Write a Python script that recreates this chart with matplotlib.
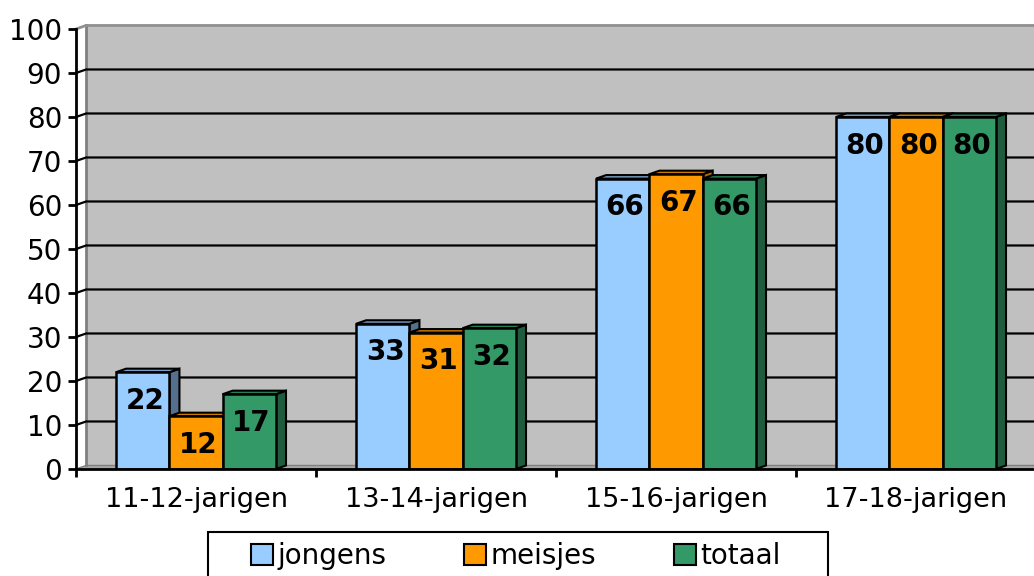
import matplotlib
matplotlib.use("Agg")
import matplotlib.pyplot as plt
from matplotlib.patches import Polygon, Rectangle, Patch
import numpy as np

# -- data
categories = ["11-12-jarigen", "13-14-jarigen", "15-16-jarigen", "17-18-jarigen"]
series_names = ["jongens", "meisjes", "totaal"]
jongens = [22, 33, 66, 80]
meisjes = [12, 31, 67, 80]
totaal = [17, 32, 66, 80]

front_colors = ["#99CCFF", "#FF9900", "#339966"]
side_colors = ["#55708C", "#B36B00", "#1F5C3D"]
top_colors = ["#7A9FC6", "#CC7A00", "#2A7F52"]

series = [jongens, meisjes, totaal]

fig = plt.figure(figsize=(10.34, 5.76), dpi=100)
ax = fig.add_axes([76 / 1034, 1 - 469 / 576, 960 / 1034, 440 / 576])
ax.set_xlim(-0.5, 3.5)
ax.set_ylim(0, 100)

dx = 0.042   # depth offset in category units
dy = 0.8     # depth offset in value units
right = 3.5 + dx

# back wall
ax.add_patch(Rectangle((-0.5 + dx, dy), right - (-0.5 + dx), 100, facecolor="#C0C0C0",
                       edgecolor="none", zorder=0, clip_on=False))
# floor
ax.add_patch(Polygon([(-0.5, 0), (-0.5 + dx, dy), (right, dy), (right, 0)],
                     closed=True, facecolor="#A8A8A8", edgecolor="#808080", lw=1,
                     zorder=0.5, clip_on=False))
# wall left edge and top
ax.plot([-0.5 + dx, -0.5 + dx], [dy, 100 + dy], color="#808080", lw=2, zorder=1, clip_on=False)
ax.plot([-0.5, -0.5 + dx, right], [100, 100 + dy, 100 + dy], color="#909090", lw=2,
        zorder=1, clip_on=False)

# gridlines on side and back wall
for v in range(10, 100, 10):
    ax.plot([-0.5, -0.5 + dx, right], [v, v + dy, v + dy], color="black", lw=1.6,
            zorder=1, clip_on=False)

# bars with 3D faces
width = 0.222
offsets = [-width, 0, width]
z = 2
for i in range(len(categories)):
    for s, vals in enumerate(series):
        v = vals[i]
        x0 = i + offsets[s] - width / 2
        x1 = x0 + width
        ax.add_patch(Polygon([(x1, 0), (x1 + dx, dy), (x1 + dx, v + dy), (x1, v)],
                             closed=True, facecolor=side_colors[s], edgecolor="black",
                             lw=1.5, zorder=z, clip_on=False))
        ax.add_patch(Polygon([(x0, v), (x0 + dx, v + dy), (x1 + dx, v + dy), (x1, v)],
                             closed=True, facecolor=top_colors[s], edgecolor="black",
                             lw=1.5, zorder=z, clip_on=False))
        ax.bar(x0, v, width=width, align="edge", color=front_colors[s],
               edgecolor="black", lw=1.8, zorder=z + 0.5)
        ax.text(x0 + width / 2 + 0.01, v - 6.5, str(v), ha="center", va="center",
                fontsize=20, fontweight="bold", color="black", zorder=z + 1)
        z += 1

# axes styling
for side in ["top", "right"]:
    ax.spines[side].set_visible(False)
ax.spines["left"].set_linewidth(2)
ax.spines["bottom"].set_linewidth(2)
ax.spines["left"].set_zorder(50)
ax.spines["bottom"].set_zorder(50)

ax.set_yticks(range(0, 101, 10))
ax.tick_params(axis="y", length=6, width=2, labelsize=20, pad=4)
ax.set_xticks(range(len(categories)))
ax.set_xticklabels(categories)
ax.set_xticks([-0.5, 0.5, 1.5, 2.5], minor=True)
ax.tick_params(axis="x", which="major", length=0, labelsize=19.5, pad=13)
ax.tick_params(axis="x", which="minor", length=6, width=2)

handles = [Patch(facecolor=c, edgecolor="black", lw=1.5) for c in front_colors]
leg = fig.legend(handles, series_names, loc="center left", ncol=3,
                 bbox_to_anchor=(251 / 1034, 1 - 556 / 576), fontsize=20,
                 handlelength=0.8, handleheight=0.8, handletextpad=0.15,
                 columnspacing=2.8, frameon=False, borderpad=0, borderaxespad=0)
# legend box (runs off the bottom of the picture)
fig.patches.append(Rectangle((208 / 1034, -0.1), 620 / 1034, 0.1 + 1 - 532 / 576,
                             transform=fig.transFigure, fill=False,
                             edgecolor="black", lw=1.5))

fig.savefig("out.png", dpi=100)
